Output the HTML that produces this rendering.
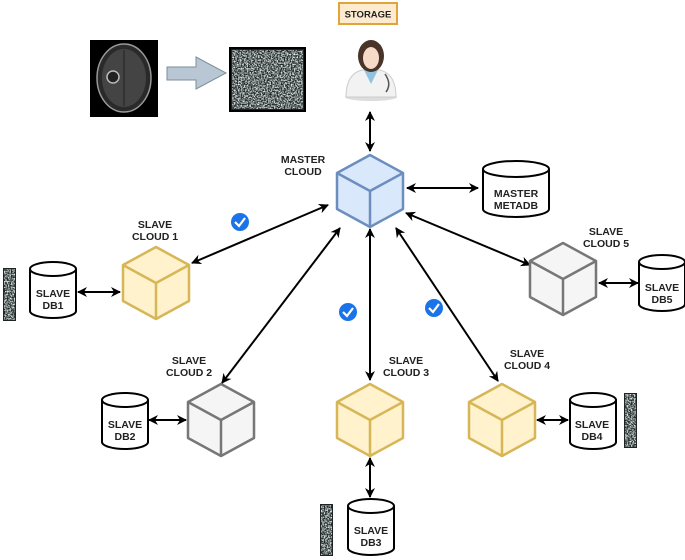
<!DOCTYPE html>
<html><head><meta charset="utf-8"><style>
body{margin:0;background:#fff}
svg{display:block}
text{font-family:"Liberation Sans",sans-serif;font-weight:bold;font-size:10.5px;fill:#222;text-anchor:middle}
</style></head><body>
<svg width="685" height="560" viewBox="0 0 685 560" xmlns="http://www.w3.org/2000/svg">
<defs>
<filter id="nz" x="0" y="0" width="100%" height="100%">
<feTurbulence type="fractalNoise" baseFrequency="0.7" numOctaves="2" seed="3"/>
<feColorMatrix type="matrix" values="0 0 0 0 0.75  0 0 0 0 0.8  0 0 0 0 0.8  3 0 0 0 -1.1"/>
</filter>
<marker id="ah" viewBox="0 0 10 10" refX="9" refY="5" markerWidth="5" markerHeight="5" orient="auto-start-reverse">
<path d="M0,0 L10,5 L0,10 L3,5 z" fill="#000"/></marker>
<g id="cylS">
<path d="M0,7 L0,49 A23,7 0 0 0 46,49 L46,7" fill="#fff" stroke="#000" stroke-width="2"/>
<ellipse cx="23" cy="7" rx="23" ry="7" fill="#fff" stroke="#000" stroke-width="2"/>
</g>
</defs>

<!-- brain -->
<rect x="90" y="40" width="68" height="77" fill="#000"/>
<ellipse cx="124" cy="78" rx="27" ry="34" fill="#2a2a2a" stroke="#999" stroke-width="1.5"/>
<ellipse cx="124" cy="78" rx="22" ry="29" fill="#444"/>
<line x1="124" y1="50" x2="124" y2="106" stroke="#222" stroke-width="1"/>
<ellipse cx="113" cy="77" rx="6" ry="6" fill="#222" stroke="#bbb" stroke-width="1.5"/>
<!-- block arrow -->
<polygon points="167,67 196,67 196,57 226,73 196,89 196,80 167,80" fill="#b8c7d3" stroke="#7d8f9c" stroke-width="1"/>
<!-- noise image -->
<rect x="230" y="48" width="75" height="63" fill="#1c2424"/>
<rect x="232" y="50" width="71" height="59" filter="url(#nz)"/>
<rect x="230" y="48" width="75" height="63" fill="none" stroke="#000" stroke-width="2"/>
<!-- storage -->
<rect x="339" y="3" width="58" height="21" fill="#fdebd0" stroke="#e2a43a" stroke-width="2"/>
<text x="368" y="17.5" style="font-size:9.5px">STORAGE</text>
<!-- doctor -->
<ellipse cx="371" cy="97" rx="26" ry="4" fill="#ddd"/>
<path d="M346,97 Q346,74 362,70 L380,70 Q396,74 396,97 Z" fill="#f2f2f2" stroke="#ccc"/>
<path d="M364,70 L371,84 L378,70 Z" fill="#8fc3e0"/>
<ellipse cx="371" cy="56" rx="13" ry="16" fill="#4a3328"/>
<ellipse cx="371" cy="58" rx="8" ry="11" fill="#f6dcc8"/>
<path d="M385,74 Q392,84 386,92" fill="none" stroke="#555" stroke-width="1.5"/>

<!-- connectors -->
<g stroke="#000" stroke-width="2" fill="none" marker-start="url(#ah)" marker-end="url(#ah)">
<line x1="370" y1="112" x2="370" y2="151"/>
<line x1="407" y1="188" x2="478" y2="188"/>
<line x1="328" y1="205" x2="192" y2="263"/>
<line x1="340" y1="228" x2="222" y2="383"/>
<line x1="370" y1="229" x2="370" y2="380"/>
<line x1="396" y1="228" x2="498" y2="381"/>
<line x1="406" y1="213" x2="530" y2="265"/>
<line x1="78" y1="292" x2="120" y2="292"/>
<line x1="149" y1="420" x2="186" y2="420"/>
<line x1="537" y1="420" x2="568" y2="420"/>
<line x1="599" y1="283" x2="638" y2="283"/>
<line x1="370" y1="458" x2="370" y2="497"/>
</g>

<!-- cubes -->
<g transform="translate(337,155)" stroke="#6c8ebf" stroke-width="2.5" fill="#dae8fc" stroke-linejoin="round">
<polygon points="33,0 66,18 66,54 33,72 0,54 0,18"/><polyline points="0,18 33,36 66,18" fill="none"/><line x1="33" y1="36" x2="33" y2="72"/></g>
<g transform="translate(123,247)" stroke="#d6b656" stroke-width="2.5" fill="#fff2cc" stroke-linejoin="round">
<polygon points="33,0 66,18 66,54 33,72 0,54 0,18"/><polyline points="0,18 33,36 66,18" fill="none"/><line x1="33" y1="36" x2="33" y2="72"/></g>
<g transform="translate(530,243)" stroke="#777" stroke-width="2.5" fill="#f5f5f5" stroke-linejoin="round">
<polygon points="33,0 66,18 66,54 33,72 0,54 0,18"/><polyline points="0,18 33,36 66,18" fill="none"/><line x1="33" y1="36" x2="33" y2="72"/></g>
<g transform="translate(188,384)" stroke="#777" stroke-width="2.5" fill="#f5f5f5" stroke-linejoin="round">
<polygon points="33,0 66,18 66,54 33,72 0,54 0,18"/><polyline points="0,18 33,36 66,18" fill="none"/><line x1="33" y1="36" x2="33" y2="72"/></g>
<g transform="translate(337,384)" stroke="#d6b656" stroke-width="2.5" fill="#fff2cc" stroke-linejoin="round">
<polygon points="33,0 66,18 66,54 33,72 0,54 0,18"/><polyline points="0,18 33,36 66,18" fill="none"/><line x1="33" y1="36" x2="33" y2="72"/></g>
<g transform="translate(469,384)" stroke="#d6b656" stroke-width="2.5" fill="#fff2cc" stroke-linejoin="round">
<polygon points="33,0 66,18 66,54 33,72 0,54 0,18"/><polyline points="0,18 33,36 66,18" fill="none"/><line x1="33" y1="36" x2="33" y2="72"/></g>

<!-- cylinders -->
<use href="#cylS" transform="translate(30,262)"/>
<use href="#cylS" transform="translate(102,393)"/>
<use href="#cylS" transform="translate(348,499)"/>
<use href="#cylS" transform="translate(570,393)"/>
<use href="#cylS" transform="translate(639,255)"/>
<g transform="translate(483,161)">
<path d="M0,8 L0,48 A33,8 0 0 0 66,48 L66,8" fill="#fff" stroke="#000" stroke-width="2"/>
<ellipse cx="33" cy="8" rx="33" ry="8" fill="#fff" stroke="#000" stroke-width="2"/></g>

<!-- noise strips -->
<rect x="3" y="268" width="13" height="53" fill="#1c2424"/><rect x="4" y="269" width="11" height="51" filter="url(#nz)"/>
<rect x="624" y="393" width="13" height="55" fill="#1c2424"/><rect x="625" y="394" width="11" height="53" filter="url(#nz)"/>
<rect x="320" y="504" width="13" height="52" fill="#1c2424"/><rect x="321" y="505" width="11" height="50" filter="url(#nz)"/>

<!-- checks -->
<g><circle cx="240" cy="222" r="9" fill="#1a73e8"/><polyline points="235,222 239,226 245,218" fill="none" stroke="#fff" stroke-width="2.2"/></g>
<g><circle cx="348" cy="312" r="9" fill="#1a73e8"/><polyline points="343,312 347,316 353,308" fill="none" stroke="#fff" stroke-width="2.2"/></g>
<g><circle cx="434" cy="308" r="9" fill="#1a73e8"/><polyline points="429,308 433,312 439,304" fill="none" stroke="#fff" stroke-width="2.2"/></g>

<!-- labels -->
<text x="303" y="163">MASTER</text><text x="303" y="175">CLOUD</text>
<text x="155" y="228">SLAVE</text><text x="155" y="240">CLOUD 1</text>
<text x="606" y="235">SLAVE</text><text x="606" y="247">CLOUD 5</text>
<text x="189" y="364">SLAVE</text><text x="189" y="376">CLOUD 2</text>
<text x="406" y="364">SLAVE</text><text x="406" y="376">CLOUD 3</text>
<text x="527" y="357">SLAVE</text><text x="527" y="369">CLOUD 4</text>
<text x="516" y="197">MASTER</text><text x="516" y="209">METADB</text>
<text x="53" y="297">SLAVE</text><text x="53" y="309">DB1</text>
<text x="125" y="428">SLAVE</text><text x="125" y="440">DB2</text>
<text x="371" y="534">SLAVE</text><text x="371" y="546">DB3</text>
<text x="592" y="428">SLAVE</text><text x="592" y="440">DB4</text>
<text x="662" y="291">SLAVE</text><text x="662" y="303">DB5</text>
</svg>
</body></html>
